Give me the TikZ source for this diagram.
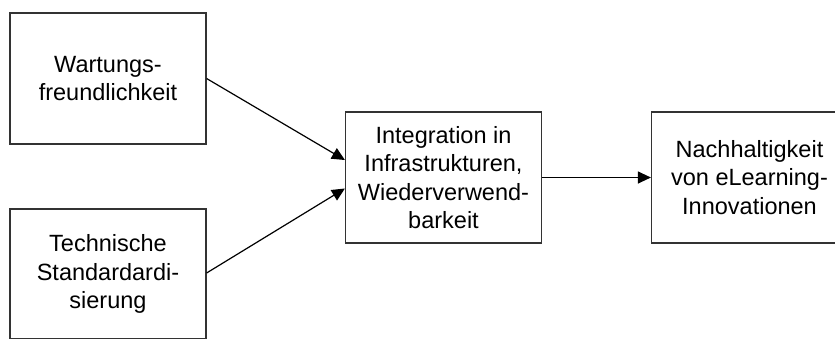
\documentclass[tikz,border=0pt]{standalone}
\usepackage{fontspec}
\setmainfont{Liberation Sans}
\usetikzlibrary{arrows.meta}
\tikzset{
  box/.style={draw=black!80, line width=1.2pt, inner sep=0pt,
    minimum width=196pt, minimum height=131pt, align=center,
    font=\fontsize{23.5}{28.5}\selectfont},
  link/.style={draw=black, line width=1.2pt, -{Triangle[length=13pt,width=12pt]}}
}
\begin{document}
\begin{tikzpicture}[x=1pt,y=-1pt]
  \useasboundingbox (0,0) rectangle (835,338);
  \clip (0,0) rectangle (835,338);
  \fill[white] (0,0) rectangle (835,338);

  \node[box] (wart) at (108,78.5) {Wartungs-\\freundlichkeit};
  \node[box, minimum height=130pt] (tech) at (108,274) {Technische\\Standardardi-\\sierung};
  \node[box] (integ) at (443.5,177.5) {Integration in\\Infrastrukturen,\\Wiederverwend-\\barkeit};
  \node[box] (nach) at (749.5,177.5) {Nachhaltigkeit\\von eLearning-\\Innovationen};

  \draw[link] (wart.east) -- ([yshift=17.5pt]integ.west);
  \draw[link] ([yshift=1pt]tech.east) -- ([yshift=-11pt]integ.west);
  \draw[link] (integ.east) -- (nach.west);
\end{tikzpicture}
\end{document}
